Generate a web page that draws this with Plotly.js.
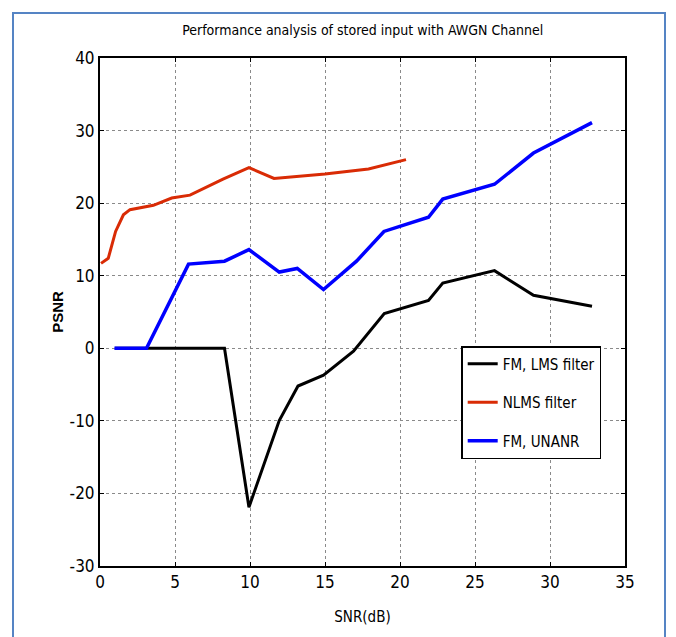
<!DOCTYPE html>
<html>
<head>
<meta charset="utf-8">
<script src="https://cdn.plot.ly/plotly-3.0.1.min.js"></script>
<style>
  html, body { margin: 0; padding: 0; background: #fff; }
  #wrap { position: relative; width: 676px; height: 637px; overflow: hidden; }
  #chart { width: 676px; height: 637px; }
  #frame { position: absolute; left: 12px; top: 12px; width: 650px; height: 700px;
           border-left: 2px solid #5584c4; border-top: 2px solid #5584c4; border-right: 2px solid #5584c4;
           pointer-events: none; }
</style>
</head>
<body>
<div id="wrap">
  <div id="chart"></div>
  <div id="frame"></div>
</div>
<script>
// Data
const lmsSNR  = [1, 3.1, 8.3, 9.93, 11.95, 13.2, 14.9, 16.9, 18.95, 21.9, 22.85, 26.3, 28.9, 32.8];
const lmsPSNR = [0, 0, 0, -21.9, -9.95, -5.2, -3.7, -0.4, 4.8, 6.6, 9.0, 10.7, 7.3, 5.8];

const nlmsSNR  = [0.07, 0.55, 1.04, 1.56, 2.0, 3.56, 4.78, 6.0, 8.2, 9.93, 11.6, 15.0, 17.9, 20.4];
const nlmsPSNR = [11.7, 12.4, 16.1, 18.4, 19.1, 19.7, 20.7, 21.1, 23.3, 24.9, 23.4, 24.0, 24.7, 26.0];

const unanrSNR  = [0.96, 3.1, 5.9, 8.3, 9.93, 11.95, 13.15, 14.9, 17.1, 18.93, 21.9, 22.85, 26.3, 28.9, 32.8];
const unanrPSNR = [0, 0, 11.6, 12.0, 13.6, 10.5, 11.0, 8.1, 12.0, 16.1, 18.05, 20.55, 22.6, 26.9, 31.1];

const seriesNames = ['FM, LMS filter', 'NLMS filter', 'FM, UNANR'];
const xTicks = [0, 5, 10, 15, 20, 25, 30, 35];
const yTicks = [-30, -20, -10, 0, 10, 20, 30, 40];

const NARROW = '"Liberation Sans Narrow", "Arial Narrow", "DejaVu Sans Condensed", Arial, sans-serif';

const traces = [
  { x: lmsSNR, y: lmsPSNR, name: seriesNames[0], mode: 'lines', legendgroup: 'a',
    line: { color: '#000000', width: 3 } },
  { x: nlmsSNR, y: nlmsPSNR, name: seriesNames[1], mode: 'lines', legendgroup: 'b',
    line: { color: '#d92b05', width: 3 } },
  { x: unanrSNR, y: unanrPSNR, name: seriesNames[2], mode: 'lines', legendgroup: 'c',
    line: { color: '#0000ff', width: 3.5 } }
];

const axisCommon = {
  showline: true, linecolor: '#000', linewidth: 2, mirror: 'all',
  ticks: 'inside', ticklen: 4, tickwidth: 1, tickcolor: '#000',
  showgrid: true, gridcolor: '#8a8a8a', griddash: 'dot', gridwidth: 1,
  zeroline: false,
  tickfont: { family: NARROW, size: 17, color: '#000' }
};

const layout = {
  width: 676, height: 637,
  margin: { l: 100, r: 51, t: 58, b: 71 },
  paper_bgcolor: '#fff', plot_bgcolor: '#fff',
  title: { text: 'Performance analysis of stored input with AWGN Channel',
           font: { family: NARROW, size: 14, color: '#000' },
           x: 0.5365, xanchor: 'center', y: 0.953, yanchor: 'middle' },
  xaxis: Object.assign({}, axisCommon, {
    range: [0, 35], tickvals: xTicks, ticktext: xTicks.map(String),
    title: { text: 'SNR(dB)', font: { family: NARROW, size: 15, color: '#000' }, standoff: 20 }
  }),
  yaxis: Object.assign({}, axisCommon, {
    range: [-30, 40], tickvals: yTicks, ticktext: yTicks.map(String),
    title: { text: '<b>PSNR</b>', font: { family: 'Liberation Sans, Arial, sans-serif', size: 15, color: '#000' }, standoff: 2 }
  }),
  showlegend: true,
  legend: {
    x: 0.688, y: 0.433, xanchor: 'left', yanchor: 'top',
    bgcolor: '#fff', bordercolor: '#000', borderwidth: 1.5,
    font: { family: NARROW, size: 15, color: '#000' },
    tracegroupgap: 16, itemwidth: 30
  }
};

Plotly.newPlot('chart', traces, layout, { displayModeBar: false, staticPlot: true });
</script>
</body>
</html>
